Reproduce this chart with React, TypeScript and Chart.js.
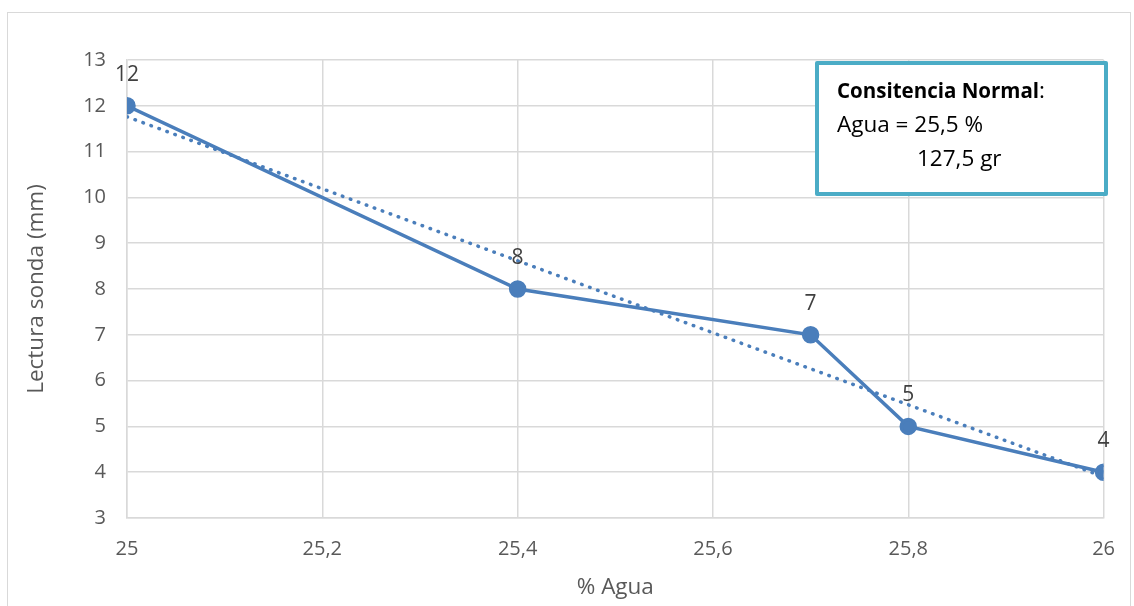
import React, { useEffect, useRef } from "react";
import { Chart, registerables } from "chart.js";

Chart.register(...registerables);

// Measured points: water percentage vs. probe reading
const waterPct = [25, 25.4, 25.7, 25.8, 26];
const probeReading = [12, 8, 7, 5, 4];

// Linear trendline endpoints
const trendX = [25, 26];
const trendY = [11.76, 3.9];

// Annotation box lines
const noteTitle = "Consitencia Normal";
const noteLine2 = "Agua = 25,5 %";
const noteLine3 = "127,5 gr";

const FONT = "'Open Sans', 'Noto Sans', sans-serif";
const BLUE = "#4A7EBB";
const GRID = "#D9D9D9";
const TICK = "#595959";

const fmt = (v: number) => String(Number(v.toFixed(1))).replace(".", ",");

const framePlugin = {
  id: "frame",
  beforeDraw(chart: any) {
    const ctx = chart.ctx;
    ctx.save();
    ctx.fillStyle = "#ffffff";
    ctx.fillRect(0, 0, chart.width, chart.height);
    ctx.strokeStyle = GRID;
    ctx.lineWidth = 1;
    ctx.strokeRect(7.5, 12.5, chart.width - 11, chart.height + 20);
    ctx.restore();
  },
};

const valueLabelPlugin = {
  id: "valueLabels",
  afterDatasetsDraw(chart: any) {
    const ctx = chart.ctx;
    const meta = chart.getDatasetMeta(1);
    ctx.save();
    ctx.font = `21px ${FONT}`;
    ctx.fillStyle = "#404040";
    ctx.textAlign = "center";
    ctx.textBaseline = "middle";
    meta.data.forEach((pt: any, i: number) => {
      ctx.fillText(String(probeReading[i]), pt.x, pt.y - 31);
    });
    ctx.restore();
  },
};

const noteBoxPlugin = {
  id: "noteBox",
  afterDraw(chart: any) {
    const ctx = chart.ctx;
    const x = 817, y = 63, w = 289, h = 131;
    ctx.save();
    ctx.fillStyle = "#ffffff";
    ctx.fillRect(x, y, w, h);
    ctx.strokeStyle = "#4BACC6";
    ctx.lineWidth = 4;
    ctx.lineJoin = "round";
    ctx.strokeRect(x, y, w, h);
    ctx.fillStyle = "#000000";
    ctx.textBaseline = "middle";
    ctx.textAlign = "left";
    ctx.font = `bold 20.5px ${FONT}`;
    ctx.fillText(noteTitle, 837, 92);
    const tw = ctx.measureText(noteTitle).width;
    ctx.font = `22.5px ${FONT}`;
    ctx.fillText(":", 837 + tw, 92);
    ctx.fillText(noteLine2, 837, 126);
    ctx.fillText(noteLine3, 917, 160);
    ctx.restore();
  },
};

export default function App() {
  const ref = useRef<HTMLCanvasElement | null>(null);

  useEffect(() => {
    if (!ref.current) return;
    const chart = new Chart(ref.current, {
      type: "scatter",
      data: {
        datasets: [
          {
            label: "Lineal",
            data: trendX.map((x, i) => ({ x, y: trendY[i] })),
            showLine: true,
            borderColor: BLUE,
            borderWidth: 3.5,
            borderDash: [0.5, 8],
            borderCapStyle: "round",
            pointRadius: 0,
            fill: false,
          },
          {
            label: "Lectura",
            data: waterPct.map((x, i) => ({ x, y: probeReading[i] })),
            showLine: true,
            borderColor: BLUE,
            backgroundColor: BLUE,
            borderWidth: 3.5,
            pointRadius: 7,
            pointBackgroundColor: BLUE,
            pointBorderColor: BLUE,
            fill: false,
          },
        ],
      },
      options: {
        responsive: false,
        animation: false,
        layout: { padding: { top: 60, right: 29, left: 0, bottom: 0 } },
        plugins: {
          legend: { display: false },
          tooltip: { enabled: false },
        },
        scales: {
          x: {
            type: "linear",
            min: 25,
            max: 26,
            afterFit: (s: any) => {
              s.height = 88;
            },
            ticks: {
              stepSize: 0.2,
              color: TICK,
              font: { family: FONT, size: 20 },
              padding: 19,
              callback: (v: any) => fmt(Number(v)),
            },
            grid: { color: GRID, lineWidth: 1.5, drawTicks: false },
            border: { color: GRID, width: 1.5 },
            title: {
              display: true,
              text: "% Agua",
              color: TICK,
              font: { family: FONT, size: 22.5 },
              padding: { bottom: 5, top: 0 },
            },
          },
          y: {
            min: 3,
            max: 13,
            afterFit: (s: any) => {
              s.width = 127;
            },
            ticks: {
              stepSize: 1,
              color: TICK,
              font: { family: FONT, size: 20 },
              padding: 21,
            },
            grid: { color: GRID, lineWidth: 1.5, drawTicks: false },
            border: { color: GRID, width: 1.5 },
            title: {
              display: true,
              text: "Lectura sonda (mm)",
              color: TICK,
              font: { family: FONT, size: 22.5 },
              padding: { top: 23, bottom: 0 },
            },
          },
        },
      },
      plugins: [framePlugin, valueLabelPlugin, noteBoxPlugin],
    } as any);
    return () => chart.destroy();
  }, []);

  return (
    <div style={{ position: "absolute", left: 0, top: 0, width: 1134, height: 606 }}>
      <canvas ref={ref} width={1134} height={606} />
    </div>
  );
}
